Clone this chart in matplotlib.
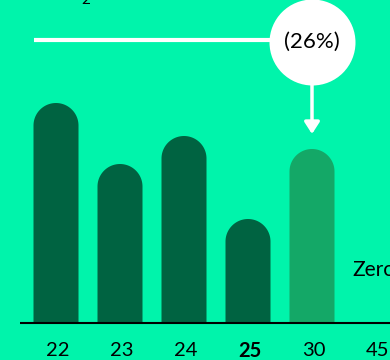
import numpy as np
import matplotlib
matplotlib.use("Agg")
import matplotlib.pyplot as plt
from matplotlib.patches import Polygon

# Data
categories = ["22", "23", "24", "25", "30", "45"]
values = [220, 159, 187, 104, 174]
bar_colors = ["#006341", "#006341", "#006341", "#006341", "#14A867"]
callout_label = "(26%)"
side_label = "Zero"

BG = "#00F4AB"
W, H, DPI = 390, 360, 100

fig = plt.figure(figsize=(W / DPI, H / DPI), dpi=DPI, facecolor=BG)
ax = fig.add_axes([0, 0, 1, 1], facecolor=BG)

# x: one category every 64 px, first centre at 56 px; y: px above baseline
step = 64.0
x0 = 56.0
base = 323.0
ax.set_xlim(-x0 / step, (W - x0) / step)
ax.set_ylim(-(H - base), base)
ax.axis("off")

bar_w = 45.0 / step
r = 22.5  # radius of the rounded top, in px (= y units)
theta = np.linspace(0, np.pi, 60)


def rounded_bar(xc, h):
    """Outline of a bar whose top is a half-circle."""
    hw = bar_w / 2
    arc_x = xc + hw * np.cos(theta)
    arc_y = (h - r) + r * np.sin(theta)
    xs = np.concatenate([[xc + hw], arc_x, [xc - hw]])
    ys = np.concatenate([[0], arc_y, [0]])
    return np.column_stack([xs, ys])


for i, (v, c) in enumerate(zip(values, bar_colors)):
    ax.add_patch(Polygon(rounded_bar(i, v), closed=True, facecolor=c,
                         edgecolor="none", zorder=2))

# baseline
ax.plot([(20 - x0) / step, (W - x0) / step], [0, 0], color="black", lw=1.5,
        zorder=3, solid_capstyle="butt")

# tick labels
font = "Lato"
for i, lab in enumerate(categories):
    ax.text(i + 0.03, -28, lab, ha="center", va="center", fontsize=14.5,
            family=font, color="black",
            fontweight="bold" if lab == "25" else "normal")

# callout above the last real bar
ci = 4
cy = base - 42
ax.plot([(34 - x0) / step, ci], [base - 40, base - 40], color="white", lw=3,
        zorder=4, solid_capstyle="butt")
ax.plot([ci], [cy], marker="o", markersize=86 * 72 / DPI, color="white",
        markeredgewidth=0, zorder=5)
ax.text(ci, cy, callout_label, ha="center", va="center", fontsize=16,
        family=font, color="black", zorder=6)
ax.annotate("", xy=(ci, base - 134), xytext=(ci, cy - 43),
            arrowprops=dict(arrowstyle="-|>,head_length=0.7,head_width=0.45",
                            color="white", lw=2.5, shrinkA=0, shrinkB=0),
            zorder=4)

ax.text((352 - x0) / step, base - 270, side_label, ha="left", va="center",
        fontsize=15, family=font, color="black")

# partially visible heading glyph at the top edge
ax.text((86 - x0) / step, base - 4, "2", ha="center", va="baseline",
        fontsize=11, family=font, color="black")

fig.savefig("out.png", dpi=DPI, facecolor=BG)
